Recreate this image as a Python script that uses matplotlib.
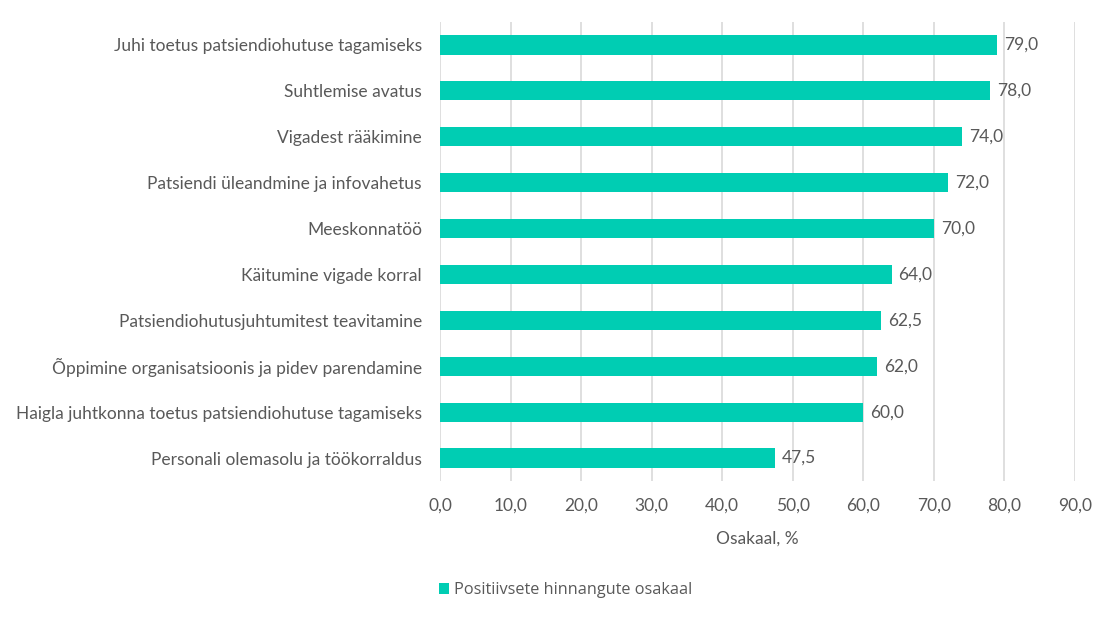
import matplotlib.pyplot as plt
import numpy as np

categories = [
    "Juhi toetus patsiendiohutuse tagamiseks",
    "Suhtlemise avatus",
    "Vigadest rääkimine",
    "Patsiendi üleandmine ja infovahetus",
    "Meeskonnatöö",
    "Käitumine vigade korral",
    "Patsiendiohutusjuhtumitest teavitamine",
    "Õppimine organisatsioonis ja pidev parendamine",
    "Haigla juhtkonna toetus patsiendiohutuse tagamiseks",
    "Personali olemasolu ja töökorraldus",
]
values = [79.0, 78.0, 74.0, 72.0, 70.0, 64.0, 62.5, 62.0, 60.0, 47.5]
series_name = "Positiivsete hinnangute osakaal"
xticks = [0, 10, 20, 30, 40, 50, 60, 70, 80, 90]

plt.rcParams['font.family'] = ['Lato', 'DejaVu Sans']
color = "#00CDB3"
textc = "#595959"
fs = 12.5

fig = plt.figure(figsize=(11.15, 6.22), dpi=100)
ax = fig.add_axes([440/1115, 1-481/622, (1075-440)/1115, (481-22)/622])

y = np.arange(len(categories))
bars = ax.barh(y, values, height=0.42, color=color, label=series_name, zorder=3)
ax.set_ylim(len(categories)-0.5, -0.5)
ax.set_xlim(0, 90)
ax.set_yticks(y)
ax.set_yticklabels(categories, fontsize=fs, color=textc)
ax.set_xticks(xticks)
ax.set_xticklabels([f"{t:.1f}".replace('.', ',') for t in xticks], fontsize=fs, color=textc)
ax.tick_params(axis='both', length=0)
ax.tick_params(axis='y', pad=13)
ax.tick_params(axis='x', pad=12)
ax.grid(axis='x', color='#d9d9d9', linewidth=1.2, zorder=0)
for s in ax.spines.values():
    s.set_visible(False)

for b, v in zip(bars, values):
    ax.text(v + 1.0, b.get_y() + b.get_height()/2, f"{v:.1f}".replace('.', ','),
            va='center', ha='left', fontsize=fs, color=textc)

ax.set_xlabel("Osakaal, %", fontsize=fs, color=textc, labelpad=12)

fig.legend(handles=[bars], labels=[series_name], loc='center left',
           bbox_to_anchor=(424/1115, 1-590/622), frameon=False,
           handlelength=0.65, handleheight=0.65, handletextpad=0.3,
           prop={'family': ['Open Sans', 'DejaVu Sans'], 'size': 11.7},
           labelcolor=textc)

fig.savefig("out.png", dpi=100)
